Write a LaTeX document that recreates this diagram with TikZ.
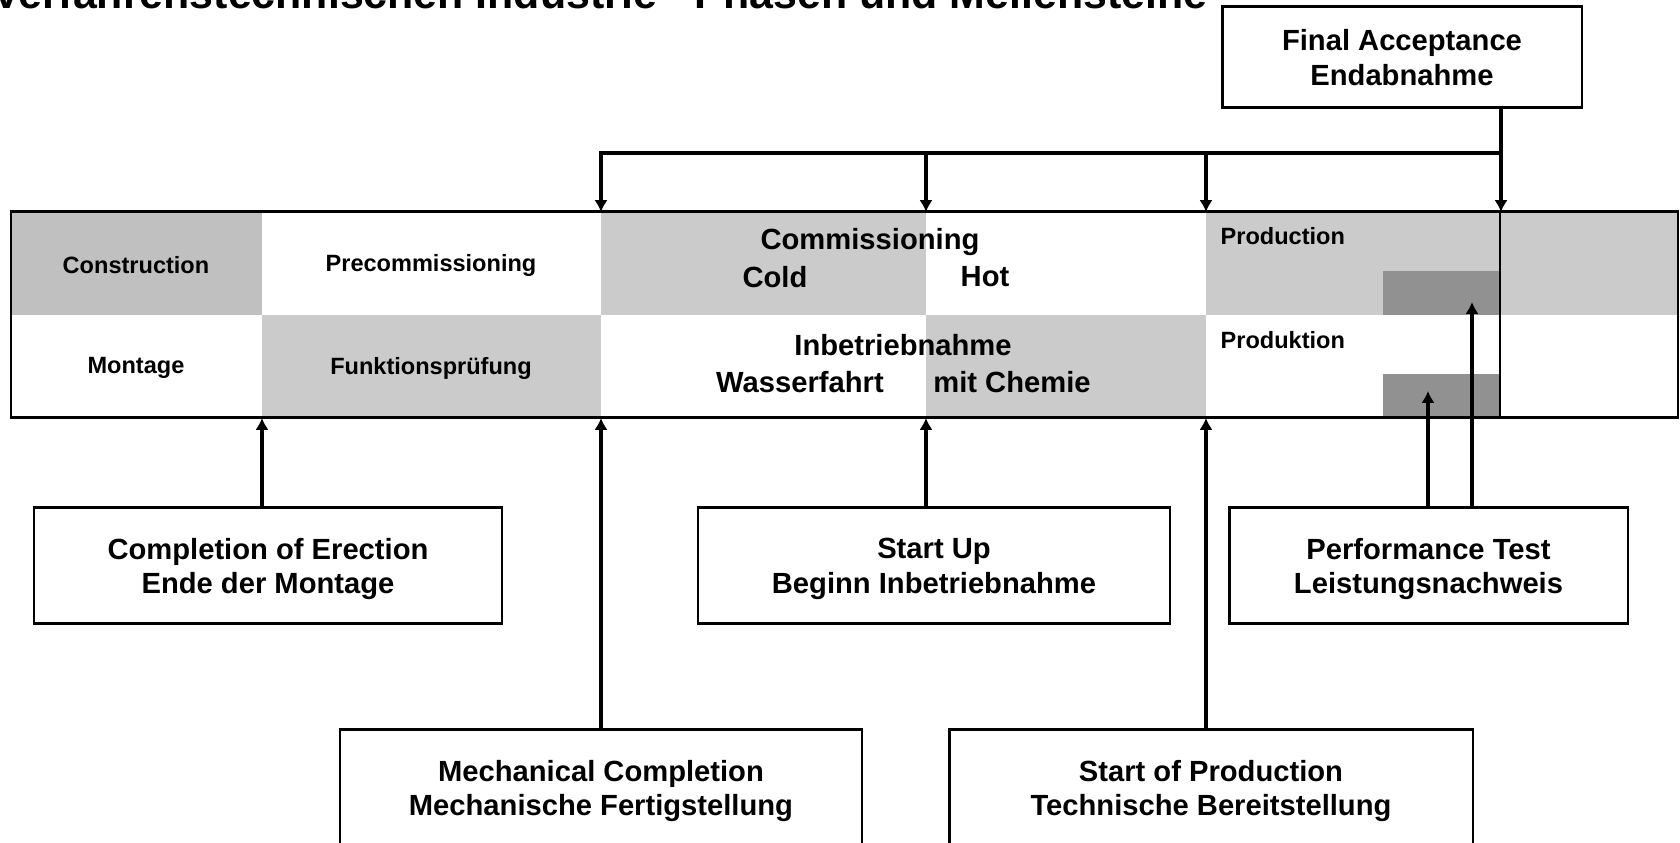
\documentclass[tikz,border=0pt]{standalone}
\usepackage{fontspec}
\setmainfont{Liberation Sans}
\usetikzlibrary{arrows.meta}
\definecolor{cellgrey}{HTML}{CBCBCB}
\definecolor{buildgrey}{HTML}{C0C0C0}
\definecolor{testgrey}{HTML}{919191}
\begin{document}
\begin{tikzpicture}[x=0.1mm, y=-0.1mm,
    milestone/.style={draw, fill=white, line width=0.85pt, align=center, inner sep=0pt,
      text depth=0pt, minimum height=11.6mm, font=\bfseries\fontsize{8.3}{9.9}\selectfont},
    phasebig/.style={font=\bfseries\fontsize{8.3}{9.8}\selectfont, inner sep=0pt},
    phasesmall/.style={font=\bfseries\fontsize{6.7}{8}\selectfont, inner sep=0pt},
    arr/.style={-{Latex[length=3.4pt,width=3.8pt]}, line width=1.3pt}]
  \useasboundingbox (0,0) rectangle (1680,843);
  % title, cut off at the top
  \node[anchor=base east, inner sep=0pt, font=\bfseries\fontsize{12.2}{14}\selectfont] (title)
    at (1208,9) {Verfahrenstechnischen Industrie - Phasen und Meilensteine};
  % phase table
  \fill[buildgrey] (11,212) rectangle (262,315);
  \fill[cellgrey] (601,212) rectangle (926,315);
  \fill[cellgrey] (1206,212) rectangle (1678,315);
  \fill[cellgrey] (262,315) rectangle (601,418);
  \fill[cellgrey] (926,315) rectangle (1206,418);
  \fill[testgrey] (1383,271) rectangle (1500,315);
  \fill[testgrey] (1383,374) rectangle (1500,418);
  \draw[line width=0.6pt] (1500,212) -- (1500,418);
  \draw[line width=0.85pt] (11,212) rectangle (1678,418);
  % phase names
  \node[phasesmall] (construction) at (136,265) {Construction};
  \node[phasesmall] (precomm) at (431,265) {Precommissioning};
  \node[phasesmall] (montage) at (136,368) {Montage};
  \node[phasesmall] (funktion) at (431,368) {Funktionsprüfung};
  \node[phasebig] (commissioning) at (870,242) {Commissioning};
  \node[phasebig] (cold) at (775,277) {Cold};
  \node[phasebig] (hot) at (985,277) {Hot};
  \node[phasebig] (inbetrieb) at (903,345) {Inbetriebnahme};
  \node[phasebig] (wasser) at (800,382) {Wasserfahrt};
  \node[phasebig] (chemie) at (1012,382) {mit Chemie};
  \node[phasesmall, anchor=west] (production) at (1220,236) {Production};
  \node[phasesmall, anchor=west] (produktion) at (1220,340) {Produktion};
  % milestone points on the table
  \coordinate (pErect) at (262,418);
  \coordinate (pMech) at (601,418);
  \coordinate (pStart) at (926,418);
  \coordinate (pSop) at (1206,418);
  \coordinate (pPerfA) at (1428,391);
  \coordinate (pPerfB) at (1472,302);
  \coordinate (tMech) at (601,212);
  \coordinate (tStart) at (926,212);
  \coordinate (tSop) at (1206,212);
  \coordinate (tFinal) at (1501,212);
  \coordinate (bus) at (1501,153);
  % milestones
  \node[milestone, minimum width=46.8mm] (erect) at (268,566) {Completion of Erection\\Ende der Montage};
  \node[milestone, minimum width=47.2mm] (startup) at (934,566) {Start Up\\Beginn Inbetriebnahme};
  \node[milestone, minimum width=39.9mm] (perf) at (1428.5,566) {Performance Test\\Leistungsnachweis};
  \node[milestone, minimum width=52.2mm] (mech) at (601,788) {Mechanical Completion\\Mechanische Fertigstellung};
  \node[milestone, minimum width=52.4mm] (sop) at (1211,788) {Start of Production\\Technische Bereitstellung};
  \node[milestone, minimum width=36mm, minimum height=10.1mm] (final) at (1402,57.5) {Final Acceptance\\Endabnahme};
  % arrows
  \draw[arr] (erect.north -| pErect) -- (pErect);
  \draw[arr] (mech.north -| pMech) -- (pMech);
  \draw[arr] (startup.north -| pStart) -- (pStart);
  \draw[arr] (sop.north -| pSop) -- (pSop);
  \draw[arr] (perf.north -| pPerfA) -- (pPerfA);
  \draw[arr] (perf.north -| pPerfB) -- (pPerfB);
  \draw[arr] (final.south -| tFinal) -- (tFinal);
  \draw[arr] (bus) -- (bus -| tMech) -- (tMech);
  \draw[arr] (bus -| tStart) -- (tStart);
  \draw[arr] (bus -| tSop) -- (tSop);
\end{tikzpicture}
\end{document}
